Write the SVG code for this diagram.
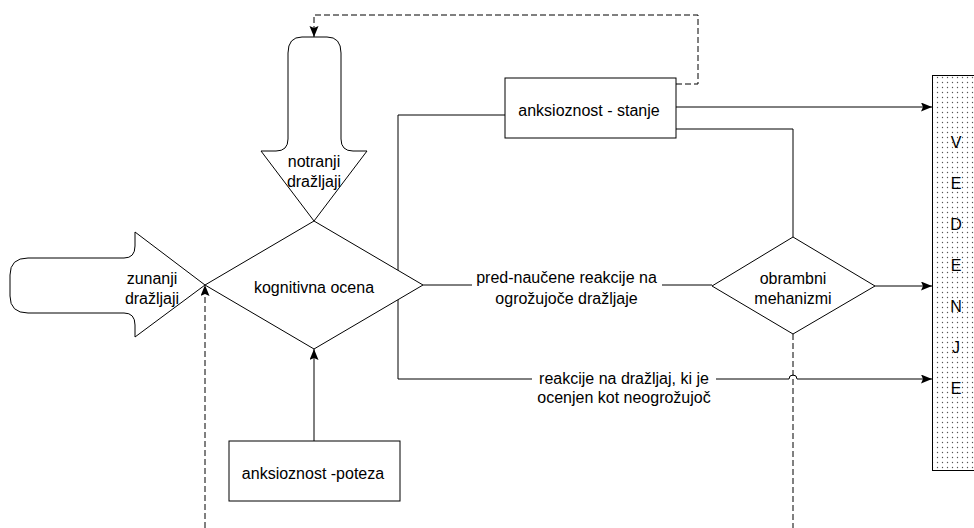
<svg xmlns="http://www.w3.org/2000/svg" width="974" height="528" viewBox="0 0 974 528">
  <defs>
    <marker id="arr" markerWidth="12" markerHeight="10" refX="11" refY="4.5" orient="auto" markerUnits="userSpaceOnUse">
      <path d="M0,0 L11,4.5 L0,9 L2,4.5 Z" fill="#000"/>
    </marker>
    <pattern id="dots" width="5" height="5" patternUnits="userSpaceOnUse">
      <rect width="5" height="5" fill="#fff"/>
      <circle cx="2.5" cy="2.5" r="0.7" fill="#555"/>
    </pattern>
    <style>
      .ln{fill:none;stroke:#000;stroke-width:1}
      .dash{fill:none;stroke:#000;stroke-width:1;stroke-dasharray:6 3}
      .shape{fill:#fff;stroke:#000;stroke-width:1}
      text{font-family:"Liberation Sans",Arial,sans-serif;font-size:16px;fill:#000;text-anchor:middle}
    </style>
  </defs>
  <rect width="974" height="528" fill="#fff"/>

  <g id="connectors">
    <path class="ln" d="M398,285 L398,115 L505,115"/>
    <path class="ln" d="M398,285 L398,379 L789,379 A4,4 0 0 1 797,379 L932,379" marker-end="url(#arr)"/>
    <path class="ln" d="M423,285 L712,285"/>
    <path class="ln" d="M676,107 L932,107" marker-end="url(#arr)"/>
    <path class="ln" d="M676,129 L793,129 L793,237"/>
    <path class="ln" d="M875,286 L932,286" marker-end="url(#arr)"/>
    <path class="ln" d="M314,441 L314,349" marker-end="url(#arr)"/>
    <path class="dash" d="M676,84 L698,84 L698,15 L314,15 L314,37" marker-end="url(#arr)"/>
    <path class="dash" d="M793,334 L793,528"/>
    <path class="dash" d="M205,528 L205,285" marker-end="url(#arr)"/>
    <rect x="472" y="268" width="190" height="42" fill="#fff"/>
    <text x="566.5" y="283">pred-naučene reakcije na</text>
    <text x="566.5" y="304">ogrožujoče dražljaje</text>
    <rect x="532" y="369" width="184" height="42" fill="#fff"/>
    <text x="624" y="384">reakcije na dražljaj, ki je</text>
    <text x="624" y="403">ocenjen kot neogrožujoč</text>
  </g>

  <g id="notranji">
    <path class="shape" d="M302,37 L327,37 Q341,37 341,53 L341,139 Q341,151 353,151 L367,151 L314,221 L261,151 L276,151 Q288,151 288,139 L288,53 Q288,37 302,37 Z"/>
    <text x="314" y="167">notranji</text>
    <text x="314" y="187">dražljaji</text>
  </g>

  <g id="zunanji">
    <path class="shape" d="M28,258 L124,258 Q135,258 135,246 L135,232 L205,285 L135,337 L135,325 Q135,313 124,313 L28,313 Q10,313 10,296 L10,275 Q10,258 28,258 Z"/>
    <text x="152" y="283.5">zunanji</text>
    <text x="152" y="303.5">dražljaji</text>
  </g>

  <g id="kognitivna">
    <path class="shape" d="M205,285 L314,221 L423,285 L314,349 Z"/>
    <text x="314" y="293">kognitivna ocena</text>
  </g>

  <g id="stanje">
    <rect class="shape" x="505" y="78" width="171" height="60"/>
    <text x="589" y="115.5">anksioznost - stanje</text>
  </g>

  <g id="obrambni">
    <path class="shape" d="M712,286 L793,237 L875,286 L793,334 Z"/>
    <text x="793" y="284">obrambni</text>
    <text x="793" y="304">mehanizmi</text>
  </g>

  <g id="poteza">
    <rect class="shape" x="229" y="441" width="171" height="60"/>
    <text x="313" y="479">anksioznost -poteza</text>
  </g>

  <g id="vedenje">
    <rect x="932.5" y="75.5" width="45" height="395" fill="url(#dots)" stroke="#000" stroke-width="1"/>
    <text x="956" y="148">V</text>
    <text x="956" y="189">E</text>
    <text x="956" y="230">D</text>
    <text x="956" y="271">E</text>
    <text x="956" y="312">N</text>
    <text x="956" y="353">J</text>
    <text x="956" y="394">E</text>
  </g>
</svg>
